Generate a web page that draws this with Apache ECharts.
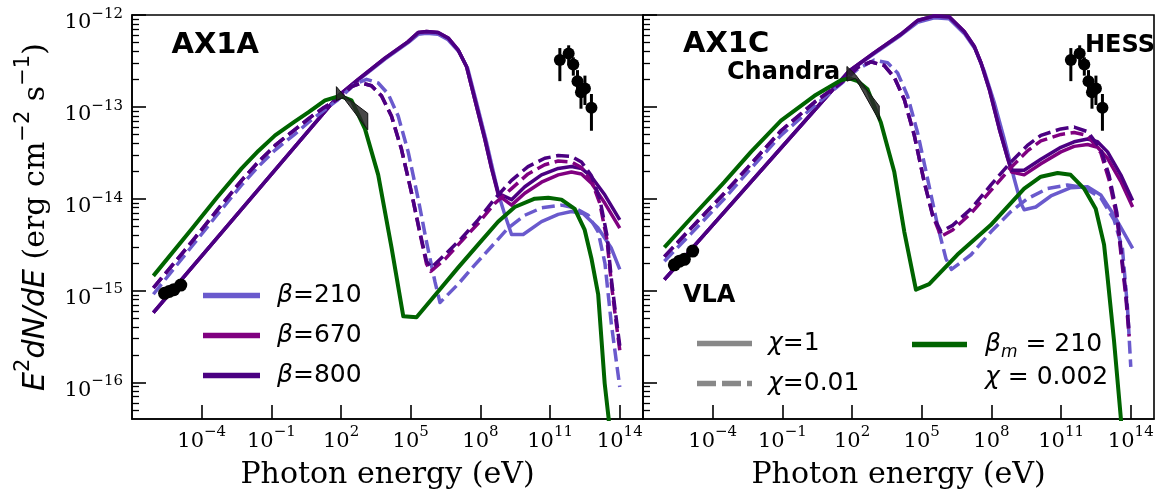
<!DOCTYPE html>
<html>
<head>
<meta charset="utf-8">
<script src="https://cdn.jsdelivr.net/npm/echarts@6/dist/echarts.min.js"></script>
<style>
  html, body { margin: 0; padding: 0; background: #fff; }
  #chart { width: 1162px; height: 495px; }
</style>
</head>
<body>
<div id="chart"></div>
<script>
// SED model curves: each point is [log10(E / eV), log10(E^2 dN/dE / erg cm^-2 s^-1)]

// ---- AX1A ----
const a_b210_chi1 = [[-6.08,-15.24],[1.88,-12.88],[2.74,-12.71],[3.89,-12.48],[4.89,-12.30],[5.32,-12.21],[5.68,-12.20],[6.18,-12.21],[6.61,-12.27],[7.08,-12.40],[7.45,-12.58],[7.82,-12.94],[8.25,-13.37],[8.54,-13.69],[8.80,-13.97],[9.06,-14.18],[9.34,-14.39],[9.84,-14.39],[10.63,-14.25],[11.35,-14.17],[11.92,-14.14],[12.42,-14.16],[13.07,-14.32],[13.64,-14.54],[14.0,-14.77]];
const a_b670_chi1 = [[-6.08,-15.24],[1.88,-12.88],[2.74,-12.70],[3.89,-12.47],[4.89,-12.29],[5.32,-12.19],[5.68,-12.18],[6.18,-12.19],[6.61,-12.25],[7.04,-12.38],[7.40,-12.56],[7.76,-12.92],[8.19,-13.35],[8.48,-13.67],[8.77,-13.96],[9.34,-14.07],[9.91,-13.94],[10.63,-13.82],[11.35,-13.74],[11.92,-13.71],[12.35,-13.73],[12.78,-13.83],[13.36,-14.05],[14.0,-14.32]];
const a_b800_chi1 = [[-6.08,-15.24],[1.88,-12.88],[2.74,-12.70],[3.89,-12.47],[4.89,-12.29],[5.32,-12.19],[5.68,-12.18],[6.18,-12.19],[6.61,-12.25],[7.04,-12.38],[7.40,-12.56],[7.76,-12.92],[8.19,-13.35],[8.48,-13.67],[8.77,-13.94],[9.34,-14.01],[9.91,-13.87],[10.63,-13.74],[11.35,-13.67],[11.92,-13.65],[12.35,-13.67],[12.78,-13.76],[13.36,-13.96],[14.0,-14.23]];
const a_b210_chi001 = [[-6.08,-15.04],[-4.43,-14.52],[-3.35,-14.18],[-2.28,-13.85],[-1.56,-13.65],[-0.84,-13.47],[0.00,-13.30],[0.59,-13.17],[1.25,-13.04],[1.88,-12.92],[2.60,-12.75],[3.10,-12.70],[3.60,-12.74],[4.03,-12.86],[4.46,-13.10],[4.89,-13.49],[5.32,-14.00],[5.68,-14.47],[6.04,-14.90],[6.26,-15.13],[7.04,-14.93],[7.76,-14.72],[8.48,-14.52],[9.19,-14.32],[9.91,-14.18],[10.63,-14.10],[11.49,-14.07],[12.06,-14.10],[12.64,-14.18],[13.07,-14.36],[13.36,-14.70],[13.64,-15.37],[14.0,-16.05]];
const a_b670_chi001 = [[-6.08,-14.97],[-4.43,-14.47],[-3.35,-14.13],[-2.28,-13.80],[-1.56,-13.60],[-0.84,-13.42],[0.00,-13.25],[0.59,-13.13],[1.25,-13.01],[1.88,-12.91],[2.45,-12.78],[2.89,-12.74],[3.31,-12.77],[3.74,-12.88],[4.17,-13.10],[4.60,-13.46],[5.03,-13.93],[5.39,-14.37],[5.68,-14.71],[5.86,-14.79],[6.47,-14.66],[7.19,-14.46],[7.90,-14.27],[8.62,-14.05],[9.34,-13.89],[10.05,-13.73],[10.77,-13.63],[11.35,-13.59],[11.92,-13.60],[12.35,-13.66],[12.78,-13.80],[13.14,-14.05],[13.45,-14.45],[13.65,-14.95],[13.82,-15.30],[14.0,-15.65]];
const a_b800_chi001 = [[-6.08,-14.97],[-4.43,-14.47],[-3.35,-14.13],[-2.28,-13.80],[-1.56,-13.60],[-0.84,-13.42],[0.00,-13.25],[0.59,-13.13],[1.25,-13.01],[1.88,-12.91],[2.45,-12.78],[2.89,-12.74],[3.31,-12.77],[3.74,-12.88],[4.17,-13.10],[4.60,-13.46],[5.03,-13.93],[5.39,-14.36],[5.68,-14.68],[5.89,-14.75],[6.47,-14.61],[7.19,-14.43],[7.90,-14.23],[8.62,-14.00],[9.34,-13.80],[10.05,-13.65],[10.77,-13.56],[11.35,-13.53],[11.92,-13.54],[12.35,-13.60],[12.78,-13.75],[13.14,-14.00],[13.45,-14.40],[13.65,-14.90],[13.82,-15.25],[14.0,-15.60]];
const a_bm210_chi0002 = [[-6.08,-14.84],[-4.43,-14.33],[-3.35,-13.99],[-2.28,-13.67],[-1.56,-13.48],[-0.84,-13.31],[0.00,-13.16],[0.59,-13.06],[1.31,-12.93],[1.95,-12.88],[2.45,-12.93],[3.03,-13.24],[3.60,-13.74],[4.18,-14.54],[4.68,-15.28],[5.25,-15.29],[6.18,-15.01],[7.04,-14.75],[7.90,-14.50],[8.76,-14.25],[9.48,-14.09],[10.34,-14.00],[10.92,-13.99],[11.49,-14.01],[12.06,-14.11],[12.49,-14.34],[12.78,-14.65],[13.07,-15.04],[13.35,-16.01],[13.52,-16.39],[13.60,-16.70]];

// ---- AX1C ----
const c_b210_chi1 = [[-6.08,-14.88],[1.88,-12.61],[2.96,-12.42],[4.10,-12.22],[4.82,-12.08],[5.54,-12.03],[6.18,-12.04],[6.83,-12.20],[7.30,-12.37],[7.69,-12.61],[8.12,-12.95],[8.55,-13.35],[8.98,-13.78],[9.27,-14.05],[9.41,-14.12],[9.91,-14.09],[10.56,-13.97],[11.42,-13.88],[12.14,-13.87],[12.71,-13.96],[13.28,-14.18],[14.08,-14.54]];
const c_b670_chi1 = [[-6.08,-14.88],[1.88,-12.61],[2.96,-12.41],[4.10,-12.21],[4.82,-12.06],[5.54,-12.01],[6.18,-12.02],[6.83,-12.18],[7.26,-12.34],[7.55,-12.52],[7.91,-12.81],[8.34,-13.24],[8.70,-13.56],[8.87,-13.71],[9.41,-13.74],[10.13,-13.62],[10.99,-13.49],[11.56,-13.43],[12.14,-13.41],[12.57,-13.44],[13.00,-13.56],[13.57,-13.81],[14.08,-14.09]];
const c_b800_chi1 = [[-6.08,-14.88],[1.88,-12.61],[2.96,-12.41],[4.10,-12.21],[4.82,-12.06],[5.54,-12.01],[6.18,-12.02],[6.83,-12.18],[7.26,-12.34],[7.55,-12.52],[7.91,-12.81],[8.34,-13.24],[8.70,-13.56],[8.87,-13.69],[9.41,-13.69],[10.13,-13.57],[10.99,-13.44],[11.56,-13.38],[12.14,-13.35],[12.57,-13.38],[13.00,-13.49],[13.57,-13.74],[14.08,-14.02]];
const c_b210_chi001 = [[-6.08,-14.68],[-4.93,-14.38],[-3.50,-14.00],[-2.35,-13.67],[-1.06,-13.31],[0.38,-12.99],[1.52,-12.75],[2.24,-12.59],[2.96,-12.49],[3.53,-12.52],[3.96,-12.63],[4.39,-12.88],[4.82,-13.28],[5.25,-13.78],[5.68,-14.29],[6.04,-14.65],[6.28,-14.77],[7.12,-14.61],[7.98,-14.36],[8.84,-14.14],[9.55,-14.00],[10.41,-13.89],[11.27,-13.85],[11.99,-13.88],[12.71,-13.99],[13.28,-14.23],[13.64,-14.54],[13.86,-15.19],[14.00,-15.83]];
const c_b670_chi001 = [[-6.08,-14.63],[-4.93,-14.32],[-3.50,-13.94],[-2.35,-13.62],[-1.06,-13.26],[0.38,-12.95],[1.52,-12.74],[2.24,-12.57],[2.81,-12.51],[3.39,-12.55],[3.82,-12.68],[4.25,-12.92],[4.68,-13.31],[5.11,-13.82],[5.47,-14.18],[5.83,-14.41],[6.33,-14.34],[7.12,-14.16],[7.98,-13.91],[8.84,-13.66],[9.55,-13.48],[10.13,-13.37],[10.99,-13.30],[11.56,-13.28],[12.14,-13.31],[12.71,-13.50],[13.07,-13.80],[13.40,-14.20],[13.60,-14.65],[13.78,-15.05],[13.93,-15.50]];
const c_b800_chi001 = [[-6.08,-14.63],[-4.93,-14.32],[-3.50,-13.94],[-2.35,-13.62],[-1.06,-13.26],[0.38,-12.95],[1.52,-12.74],[2.24,-12.57],[2.81,-12.51],[3.39,-12.55],[3.82,-12.68],[4.25,-12.92],[4.68,-13.31],[5.11,-13.82],[5.47,-14.18],[5.83,-14.36],[6.33,-14.29],[7.12,-14.11],[7.98,-13.85],[8.84,-13.60],[9.55,-13.42],[10.13,-13.31],[10.99,-13.24],[11.56,-13.22],[12.14,-13.27],[12.71,-13.46],[13.07,-13.75],[13.40,-14.15],[13.60,-14.60],[13.78,-15.00],[13.93,-15.45]];
const c_bm210_chi0002 = [[-6.08,-14.53],[-4.93,-14.21],[-3.50,-13.82],[-2.35,-13.49],[-1.06,-13.15],[0.38,-12.88],[1.52,-12.71],[1.88,-12.69],[2.24,-12.72],[2.67,-12.81],[3.24,-13.17],[3.82,-13.71],[4.25,-14.36],[4.75,-14.99],[5.32,-14.93],[6.53,-14.61],[7.96,-14.29],[9.41,-13.89],[10.13,-13.76],[10.85,-13.72],[11.41,-13.74],[11.99,-13.89],[12.49,-14.11],[12.85,-14.50],[12.99,-14.83],[13.28,-15.55],[13.57,-16.38],[13.65,-16.70]];

// ---- observations ----
const vlaA_lgE = [-5.60, -5.40, -5.20, -4.90];
const vlaA_lgF = [-15.03, -15.01, -14.99, -14.94];
const vlaC_lgE = [-5.65, -5.43, -5.22, -4.86];
const vlaC_lgF = [-14.72, -14.68, -14.66, -14.57];

const hess_lgE = [11.42, 11.80, 12.00, 12.18, 12.33, 12.50, 12.78];
const hess_lgF = [-12.49, -12.42, -12.54, -12.72, -12.84, -12.80, -13.01];
const hess_hi  = [-12.36, -12.33, -12.46, -12.60, -12.70, -12.66, -12.86];
const hess_lo  = [-12.72, -12.55, -12.66, -12.86, -13.02, -12.98, -13.26];

const chandraA_lgE = [1.80, 2.10, 3.15];
const chandraA_up  = [-12.78, -12.87, -13.07];
const chandraA_lo  = [-12.93, -12.90, -13.25];
const chandraC_lgE = [1.78, 2.15, 3.17];
const chandraC_up  = [-12.56, -12.65, -12.99];
const chandraC_lo  = [-12.72, -12.69, -13.15];

// ---- axes ----
const xTickExp = [-4, -1, 2, 5, 8, 11, 14];
const yTickExp = [-16, -15, -14, -13, -12];
const X_MIN = -7, X_MAX = 15;
const Y_MIN = Math.log10(4e-17), Y_MAX = -12;
const yMinorExp = [];
for (let n = -17; n <= -13; n++) {
  for (let k = 2; k <= 9; k++) {
    const v = n + Math.log10(k);
    if (v > Y_MIN + 1e-6 && v < Y_MAX) yMinorExp.push(v);
  }
}

const SERIF = '"DejaVu Serif", serif';
const SANS = '"DejaVu Sans", sans-serif';
const C210 = '#6A5ACD', C670 = '#800080', C800 = '#4B0082', CGREEN = '#006400', CGRAY = '#888888';
const DASH = [13, 5.6];

function pow10Label(e) {
  const s = e < 0 ? '\u2212' + (-e) : String(e);
  return '{b|10}{s|' + s + '}';
}
const tickRich = {
  b: { fontFamily: SERIF, fontSize: 21, lineHeight: 27, verticalAlign: 'bottom', color: '#000' },
  s: { fontFamily: SERIF, fontSize: 15, lineHeight: 15, verticalAlign: 'top', color: '#000' }
};

function xAxisFor(grid) {
  return {
    gridIndex: grid, type: 'value', min: X_MIN, max: X_MAX,
    axisLine: { show: true, onZero: false, lineStyle: { color: '#000', width: 1.6 } },
    axisTick: { show: true, inside: true, length: 14, customValues: xTickExp, lineStyle: { color: '#000', width: 1.6 } },
    axisLabel: { show: true, customValues: xTickExp, margin: 6, formatter: v => pow10Label(Math.round(v)), rich: tickRich },
    splitLine: { show: false },
    name: 'Photon energy (eV)', nameLocation: 'middle', nameGap: 41,
    nameTextStyle: { fontFamily: SERIF, fontSize: 30, color: '#000' }
  };
}
function yMajorFor(grid, withLabels) {
  const ax = {
    gridIndex: grid, type: 'value', position: 'left', min: Y_MIN, max: Y_MAX,
    axisLine: { show: true, onZero: false, lineStyle: { color: '#000', width: 1.6 } },
    axisTick: { show: true, inside: true, length: 14, customValues: yTickExp, lineStyle: { color: '#000', width: 1.6 } },
    axisLabel: { show: withLabels, customValues: yTickExp, margin: 9, padding: [10, 0, 0, 0],
                 formatter: v => pow10Label(Math.round(v)), rich: tickRich },
    splitLine: { show: false }
  };
  if (withLabels) {
    ax.name = '{mi|E}{ms|2}{mi|dN/dE}{r| (erg cm}{rs|\u22122}{r| s}{rs|\u22121}{r|)}';
    ax.nameLocation = 'middle';
    ax.nameRotate = 90;
    ax.nameGap = 81;
    ax.nameTextStyle = {
      color: '#000',
      rich: {
        mi: { fontFamily: SANS, fontStyle: 'italic', fontSize: 30, lineHeight: 38, verticalAlign: 'bottom', color: '#000' },
        ms: { fontFamily: SANS, fontSize: 21, lineHeight: 21, verticalAlign: 'top', color: '#000' },
        r:  { fontFamily: SERIF, fontSize: 30, lineHeight: 38, verticalAlign: 'bottom', color: '#000' },
        rs: { fontFamily: SANS, fontSize: 21, lineHeight: 21, verticalAlign: 'top', color: '#000' }
      }
    };
  }
  return ax;
}
function yMinorFor(grid) {
  return {
    gridIndex: grid, type: 'value', position: 'left', min: Y_MIN, max: Y_MAX,
    axisLine: { show: false, onZero: false },
    axisTick: { show: true, inside: true, length: 7, customValues: yMinorExp, lineStyle: { color: '#000', width: 1.3 } },
    axisLabel: { show: false },
    splitLine: { show: false }
  };
}

// ---- series builders ----
function curve(name, data, color, dashed, xi, yi, width) {
  return {
    name, type: 'line', xAxisIndex: xi, yAxisIndex: yi, data, color,
    symbol: 'none', showSymbol: false, silent: true, animation: false, z: 2,
    lineStyle: { color, width: width || 3.5, type: dashed ? DASH : 'solid', join: 'round' }
  };
}
function dots(lgE, lgF, xi, yi, size) {
  return {
    type: 'scatter', xAxisIndex: xi, yAxisIndex: yi, silent: true, animation: false, z: 6,
    data: lgE.map((e, i) => [e, lgF[i]]), symbol: 'circle', symbolSize: size,
    itemStyle: { color: '#000', opacity: 1 }
  };
}
function errorBars(lgE, lo, hi, xi, yi) {
  return {
    type: 'custom', xAxisIndex: xi, yAxisIndex: yi, silent: true, animation: false, z: 5,
    data: lgE.map((e, i) => [e, lo[i], hi[i]]),
    encode: { x: 0, y: [1, 2] },
    renderItem: (params, api) => {
      const a = api.coord([api.value(0), api.value(1)]);
      const b = api.coord([api.value(0), api.value(2)]);
      return { type: 'line', shape: { x1: a[0], y1: a[1], x2: b[0], y2: b[1] },
               style: { stroke: '#000', lineWidth: 3 } };
    }
  };
}
function bowtie(lgE, up, lo, xi, yi) {
  return {
    type: 'custom', xAxisIndex: xi, yAxisIndex: yi, silent: true, animation: false, z: 4,
    data: [[lgE[0], up[0]]],
    renderItem: (params, api) => {
      const upper = lgE.map((e, i) => api.coord([e, up[i]]));
      const lower = lgE.map((e, i) => api.coord([e, lo[i]])).reverse();
      return { type: 'polygon', shape: { points: upper.concat(lower) },
               style: { fill: 'rgba(40,40,40,0.85)', stroke: '#111', lineWidth: 1 } };
    }
  };
}

const series = [
  // AX1A panel
  curve('β=210', a_b210_chi1, C210, false, 0, 0),
  curve('β=670', a_b670_chi1, C670, false, 0, 0),
  curve('β=800', a_b800_chi1, C800, false, 0, 0),
  curve('β=210 χ=0.01', a_b210_chi001, C210, true, 0, 0),
  curve('β=670 χ=0.01', a_b670_chi001, C670, true, 0, 0),
  curve('β=800 χ=0.01', a_b800_chi001, C800, true, 0, 0),
  curve('βm=210', a_bm210_chi0002, CGREEN, false, 0, 0, 4),
  bowtie(chandraA_lgE, chandraA_up, chandraA_lo, 0, 0),
  dots(vlaA_lgE, vlaA_lgF, 0, 0, 13),
  errorBars(hess_lgE, hess_lo, hess_hi, 0, 0),
  dots(hess_lgE, hess_lgF, 0, 0, 12),
  // AX1C panel
  curve('β=210', c_b210_chi1, C210, false, 1, 2),
  curve('β=670', c_b670_chi1, C670, false, 1, 2),
  curve('β=800', c_b800_chi1, C800, false, 1, 2),
  curve('β=210 χ=0.01', c_b210_chi001, C210, true, 1, 2),
  curve('β=670 χ=0.01', c_b670_chi001, C670, true, 1, 2),
  curve('β=800 χ=0.01', c_b800_chi001, C800, true, 1, 2),
  curve('βm=210', c_bm210_chi0002, CGREEN, false, 1, 2, 4),
  bowtie(chandraC_lgE, chandraC_up, chandraC_lo, 1, 2),
  dots(vlaC_lgE, vlaC_lgF, 1, 2, 13),
  errorBars(hess_lgE, hess_lo, hess_hi, 1, 2),
  dots(hess_lgE, hess_lgF, 1, 2, 12),
  // line-style keys for the χ legend
  curve('χ=1', [], CGRAY, false, 1, 2),
  curve('χ=0.01', [], CGRAY, true, 1, 2)
];

const legRich = (lh) => ({
  i:   { fontFamily: SANS, fontStyle: 'italic', fontSize: 25, lineHeight: lh, color: '#000' },
  n:   { fontFamily: SANS, fontSize: 25, lineHeight: lh, color: '#000' },
  sub: { fontFamily: SANS, fontStyle: 'italic', fontSize: 17, lineHeight: 17, verticalAlign: 'bottom', color: '#000' }
});

const option = {
  backgroundColor: '#fff',
  animation: false,
  grid: [
    { left: 132, top: 15, width: 511, height: 407, show: true, borderColor: '#000', borderWidth: 1.6, backgroundColor: 'transparent' },
    { left: 643, top: 15, width: 511, height: 407, show: true, borderColor: '#000', borderWidth: 1.6, backgroundColor: 'transparent' }
  ],
  xAxis: [xAxisFor(0), xAxisFor(1)],
  yAxis: [yMajorFor(0, true), yMinorFor(0), yMajorFor(1, false), yMinorFor(1)],
  legend: [
    {
      orient: 'vertical', left: 203, top: 283, padding: 0, itemWidth: 57, itemHeight: 5.5, itemGap: 15,
      icon: 'rect', selectedMode: false,
      data: ['β=210', 'β=670', 'β=800'],
      formatter: n => '{i|β}{n|' + n.slice(1) + '}',
      textStyle: { color: '#000', padding: [0, 0, 0, 12], rich: legRich(30) }
    },
    {
      orient: 'vertical', left: 697, top: 331, padding: 0, itemWidth: 55, itemHeight: 5.5, itemGap: 15,
      selectedMode: false,
      data: [
        { name: 'χ=1', icon: 'rect' },
        { name: 'χ=0.01', icon: 'path://M0,0H19V5.5H0Z M25,0H44V5.5H25Z M50,0H55V5.5H50Z' }
      ],
      formatter: n => '{i|χ}{n|' + n.slice(1) + '}',
      textStyle: { color: '#000', padding: [0, 0, 0, 11], rich: legRich(30) }
    },
    {
      orient: 'vertical', left: 912, top: 332, padding: 0, itemWidth: 55, itemHeight: 5.5,
      icon: 'rect', selectedMode: false,
      data: ['βm=210'],
      formatter: () => '{i|β}{sub|m}{n| = 210}\n{i|χ}{n| = 0.002}',
      textStyle: { color: '#000', padding: [33, 0, 0, 13], rich: legRich(33) }
    }
  ],
  graphic: [
    { type: 'text', x: 171.5, y: 45, z: 10, style: { text: 'AX1A', font: 'bold 29px "DejaVu Sans"', fill: '#000', align: 'left', verticalAlign: 'middle' } },
    { type: 'text', x: 683, y: 44.5, z: 10, style: { text: 'AX1C', font: 'bold 29px "DejaVu Sans"', fill: '#000', align: 'left', verticalAlign: 'middle' } },
    { type: 'text', x: 727, y: 73, z: 10, style: { text: 'Chandra', font: 'bold 24px "DejaVu Sans"', fill: '#000', align: 'left', verticalAlign: 'middle' } },
    { type: 'text', x: 683, y: 295.5, z: 10, style: { text: 'VLA', font: 'bold 24px "DejaVu Sans"', fill: '#000', align: 'left', verticalAlign: 'middle' } },
    { type: 'text', x: 1085, y: 45.5, z: 10, style: { text: 'HESS', font: 'bold 24px "DejaVu Sans"', fill: '#000', align: 'left', verticalAlign: 'middle' } }
  ],
  series
};

const chart = echarts.init(document.getElementById('chart'), null, { renderer: 'canvas' });
chart.setOption(option);
</script>
</body>
</html>
